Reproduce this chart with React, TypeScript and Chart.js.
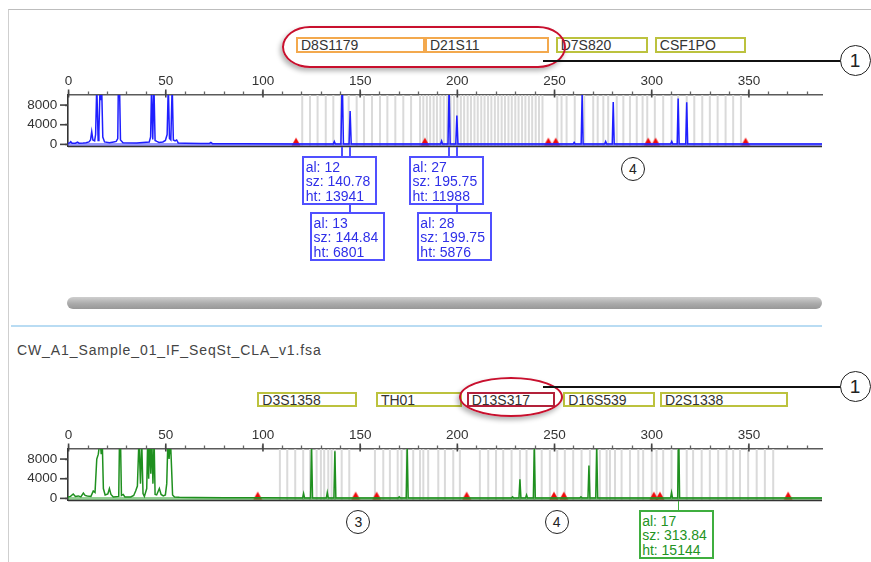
import React, { useEffect, useRef, useState } from 'react';
import { Chart, registerables } from 'chart.js';

Chart.register(...registerables);

type Pt = [number, number];

const FONT = "'Liberation Sans', Arial, Helvetica, sans-serif";

// ---------- axes ----------
const X_MIN = -0.3;
const X_MAX = 387.6;
const Y_MIN = -330;
const Y_MAX = 10050;
const xTicks = [0, 10, 20, 30, 40, 50, 60, 70, 80, 90, 100, 110, 120, 130, 140, 150, 160, 170, 180, 190, 200, 210, 220, 230, 240, 250, 260, 270, 280, 290, 300, 310, 320, 330, 340, 350, 360, 370, 380];
const yTicks = [0, 2000, 4000, 6000, 8000, 10000];

// ---------- blue (top) trace: [size bp, height rfu] ----------
const blueTrace: Pt[] = [
  [-0.3, 250], [0.5, 300], [1.1, 550], [1.8, 250], [3.5, 250], [4.6, 450], [5.4, 250], [7.5, 300], [9, 350], [10.5, 500],
  [11.3, 900], [11.9, 2600], [12.5, 900], [13.4, 700], [13.9, 2000], [14.5, 12000], [15.2, 800], [15.6, 2500], [16.2, 12000],
  [16.6, 9000], [17.0, 12000], [17.6, 1500], [18.5, 500], [21, 350], [23.2, 500], [24.5, 600], [25.3, 1200], [25.6, 12000],
  [26.2, 12000], [26.7, 900], [28, 350], [35, 300], [41.5, 500], [42.2, 1500], [42.7, 12000], [43.3, 1000], [43.9, 12000],
  [44.5, 800], [45.4, 600], [46.5, 400], [48.5, 500], [49.8, 800], [50.7, 2000], [51.3, 12000], [51.9, 1200], [52.6, 900],
  [53.3, 12000], [53.9, 900], [54.8, 700], [55.6, 900], [56.4, 300], [60, 250], [68, 200], [72.5, 200], [73.2, 400],
  [74, 150], [90, 120], [117, 100], [136.2, 100], [136.7, 600], [137.2, 100], [140.1, 100], [140.78, 13941], [141.4, 100],
  [144.3, 100], [144.84, 6801], [145.4, 100], [191.4, 100], [191.9, 700], [192.4, 100], [195.2, 100], [195.75, 11988],
  [196.3, 100], [199.2, 100], [199.75, 5876], [200.3, 100], [259.6, 100], [260.1, 400], [260.6, 100], [263.7, 100],
  [264.2, 10500], [264.7, 100], [275.8, 100], [276.3, 600], [276.8, 100], [279.7, 100], [280.2, 8600], [280.7, 100],
  [309.8, 100], [310.3, 600], [310.8, 100], [313.1, 100], [313.6, 9350], [314.1, 100], [317.5, 100], [318, 8550],
  [318.5, 100], [387.6, 100],
];

// ---------- green (bottom) trace ----------
const greenTrace: Pt[] = [
  [-0.3, 300], [1, 400], [2.4, 900], [3.5, 400], [5, 500], [6.3, 300], [7.6, 1100], [8.5, 600], [9.6, 500], [11.5, 400],
  [12.7, 1500], [13.6, 1200], [14.5, 8000], [15.3, 9000], [16.2, 12000], [16.8, 9000], [17.3, 12000], [17.9, 2000],
  [18.8, 700], [20.2, 900], [21, 2000], [21.8, 800], [23, 300], [25.8, 400], [26.2, 12000], [26.7, 12000], [27.2, 600],
  [28.1, 800], [29, 300], [32, 300], [33.5, 600], [34.5, 1500], [35.4, 2500], [36.2, 12000], [37, 3000], [37.6, 12000],
  [38.3, 1000], [39, 400], [40.2, 2000], [40.7, 12000], [41.2, 4000], [41.7, 12000], [42.3, 5000], [42.8, 12000],
  [43.4, 3000], [44, 12000], [44.5, 800], [45.3, 700], [46.7, 2000], [47.6, 800], [48.7, 500], [49.8, 700], [50.5, 3000],
  [51.1, 12000], [51.7, 8000], [52.4, 12000], [53, 6000], [53.5, 700], [54.5, 300], [57, 250], [65, 180], [80, 150],
  [100, 120], [120.4, 100], [120.9, 1000], [121.4, 100], [124.5, 100], [125.0, 11000], [125.5, 100], [132.6, 100],
  [133.1, 1200], [133.6, 100], [136.5, 100], [137.0, 9600], [137.5, 100], [169.6, 100], [170.1, 300], [170.6, 100],
  [173.7, 100], [174.2, 11000], [174.7, 100], [227.9, 100], [228.4, 300], [228.9, 100], [231.7, 100], [232.2, 3900],
  [232.7, 100], [235.1, 100], [235.6, 700], [236.1, 100], [239.1, 100], [239.6, 11000], [240.1, 100], [263.1, 100],
  [263.6, 300], [264.1, 100], [267.2, 100], [267.7, 6700], [268.2, 100], [271.2, 100], [271.7, 11000], [272.2, 100],
  [309.7, 100], [310.2, 1200], [310.7, 100], [313.34, 100], [313.84, 15144], [314.34, 100], [387.6, 100],
];

// ---------- locus boundary markers (bp) ----------
const topMarkers = [117, 183.3, 246.8, 250.6, 298.2, 302, 348.3];
const bottomMarkers = [97.3, 147.7, 158.5, 204.8, 249.7, 254.8, 301.1, 304.2, 370.2];

// ---------- allelic ladder bins (bp) ----------
const topBins = [
  120.2, 124.2, 128.1, 132.3, 136.2, 140.1, 144.1, 148.2, 152, 156.1, 160.2, 164, 168.1, 172.2, 176.2,
  180.8, 182.5, 184.3, 186, 187.8, 189.5, 191.3, 193, 194.8, 196.5, 198.3, 200, 201.8, 203.5, 205.3, 207, 208.8,
  210.5, 212.3, 214, 215.8, 217.5, 219.3, 221, 222.8, 224.5, 226.3, 228, 229.8, 231.5, 233.3, 235, 236.8, 238.5,
  240.3, 242, 243.8,
  251.4, 253.6, 256.2, 260.4, 265.3, 269.9, 272.2, 275.1, 277.6, 282, 285.4, 288.8, 292.3, 295.3, 297.7,
  301.6, 305.9, 310.2, 313.6, 318, 321.9, 326, 329.9, 333.9, 338, 341.9, 345.9,
];
const bottomBins = [
  108.7, 112.5, 116.6, 120.7, 124.2, 127.6, 129.8, 131.5, 133.6, 135.3, 137, 140.5, 144.4,
  157.6, 161.9, 165.3, 169.3, 171.3, 173.9, 177.3, 180.8, 182.5, 185, 190.2, 193.6, 197.9, 201.3,
  211.6, 215.9, 219.9, 223.6, 227.9, 232.2, 235.6, 239.6, 243.4, 247.6,
  251.4, 255.3, 259.6, 263.9, 268.2, 273.3, 276.8, 278.5, 281.1, 284.5, 288.8, 293.1, 295.6, 300,
  302.5, 305.9, 310.2, 313.6, 318, 321.3, 325.7, 329.9, 334.2, 338.5, 341.9, 345.4, 349.6, 354, 358.2, 362.5,
];

// ---------- loci (bp ranges) ----------
const topLocusNames = ['D8S1179', 'D21S11', 'D7S820', 'CSF1PO'];
const topLocusStart = [117, 183.3, 250.6, 301.6];
const topLocusEnd = [183.3, 247.3, 298.2, 348.5];
const bottomLocusNames = ['D3S1358', 'TH01', 'D13S317', 'D16S539', 'D2S1338'];
const bottomLocusStart = [97.1, 158.1, 204.8, 254.5, 304.2];
const bottomLocusEnd = [148.2, 202.4, 250.2, 301.6, 370.2];

// ---------- called alleles ----------
const topCalloutAl = [12, 13, 27, 28];
const topCalloutSz = [140.78, 144.84, 195.75, 199.75];
const topCalloutHt = [13941, 6801, 11988, 5876];
const topCalloutRow = [0, 1, 0, 1];
const bottomCalloutAl = [17];
const bottomCalloutSz = [313.84];
const bottomCalloutHt = [15144];
const bottomCalloutRow = [0];

const fileName = 'CW_A1_Sample_01_IF_SeqSt_CLA_v1.fsa';

// ---------- styles ----------
const ORANGE = '#f3a94e';
const OLIVE = '#bcc23e';
const RED_BOX = '#b3213a';
const topLocusBorder = [ORANGE, ORANGE, OLIVE, OLIVE];
const bottomLocusBorder = [OLIVE, OLIVE, RED_BOX, OLIVE, OLIVE];

const TOP_CANVAS_Y = 60;
const BOT_CANVAS_Y = 414;
const CANVAS_H = 92;

function makeTriangle(): HTMLCanvasElement {
  const c = document.createElement('canvas');
  c.width = 10;
  c.height = 16;
  const g = c.getContext('2d')!;
  g.fillStyle = '#f00a0a';
  g.beginPath();
  g.moveTo(0.5, 9.3);
  g.lineTo(5, 1.3);
  g.lineTo(9.5, 9.3);
  g.closePath();
  g.fill();
  return c;
}

const ladderPlugin = {
  id: 'ladder',
  beforeDatasetsDraw(chart: any, _a: any, opts: any) {
    const { ctx, chartArea: a, scales } = chart;
    ctx.save();
    ctx.fillStyle = '#dadada';
    for (const b of opts.bins || []) {
      const p = scales.x.getPixelForValue(b);
      ctx.fillRect(p - 1, a.top, 2, a.bottom - a.top);
    }
    ctx.restore();
  },
  afterDatasetsDraw(chart: any) {
    const { ctx, chartArea: a, scales } = chart;
    ctx.save();
    ctx.strokeStyle = '#333';
    ctx.lineWidth = 1.6;
    ctx.beginPath();
    ctx.moveTo(a.left, a.bottom + 0.5);
    ctx.lineTo(a.right, a.bottom + 0.5);
    ctx.stroke();
    ctx.strokeStyle = '#444';
    for (const v of xTicks) {
      if (v % 50 !== 0) continue;
      const p = scales.x.getPixelForValue(v);
      ctx.beginPath();
      ctx.moveTo(p, a.top - 5.5);
      ctx.lineTo(p, a.top + 2.5);
      ctx.stroke();
    }
    for (const v of yTicks) {
      if (v % 4000 !== 0) continue;
      const p = scales.y.getPixelForValue(v);
      ctx.beginPath();
      ctx.moveTo(a.left - 8, p);
      ctx.lineTo(a.left, p);
      ctx.stroke();
    }
    ctx.restore();
  },
};

function makeConfig(trace: Pt[], traceColor: string, bandColor: string, markers: number[], bins: number[], tri: HTMLCanvasElement): any {
  const tickFont = { family: FONT, size: 13.5 };
  return {
    type: 'line',
    data: {
      datasets: [
        {
          data: trace.map(([x, y]) => ({ x, y })),
          borderColor: traceColor,
          borderWidth: 1.5,
          pointRadius: 0,
          tension: 0,
          fill: false,
          clip: 0,
        },
        {
          data: [{ x: X_MIN, y: 0 }, { x: X_MAX, y: 0 }],
          borderColor: bandColor,
          borderWidth: 3,
          pointRadius: 0,
          fill: false,
        },
        {
          type: 'scatter',
          data: markers.map((x) => ({ x, y: 0 })),
          pointStyle: tri,
          pointRadius: 4,
          showLine: false,
        },
      ],
    },
    options: {
      responsive: false,
      animation: false,
      events: [],
      layout: { padding: { left: 0, right: 49, top: 0, bottom: CANVAS_H - 86 } },
      plugins: { legend: { display: false }, tooltip: { enabled: false }, ladder: { bins } },
      scales: {
        x: {
          type: 'linear',
          position: 'top',
          min: X_MIN,
          max: X_MAX,
          afterBuildTicks: (s: any) => { s.ticks = xTicks.map((v) => ({ value: v })); },
          afterFit: (s: any) => { s.height = 35; s.paddingLeft = 0; s.paddingRight = 0; s.paddingTop = 0; s.paddingBottom = 0; },
          ticks: {
            autoSkip: false,
            maxRotation: 0,
            minRotation: 0,
            padding: 2,
            color: '#333',
            font: tickFont,
            callback: (v: number) => (v % 50 === 0 ? String(v) : ''),
          },
          grid: { drawOnChartArea: false, drawTicks: true, tickLength: 3.5, tickWidth: 1.3, tickColor: '#666' },
          border: { display: true, color: '#5a5a5a', width: 1.6 },
        },
        y: {
          type: 'linear',
          min: Y_MIN,
          max: Y_MAX,
          afterBuildTicks: (s: any) => { s.ticks = yTicks.map((v) => ({ value: v })); },
          afterFit: (s: any) => { s.width = 68; s.paddingTop = 0; s.paddingBottom = 0; s.paddingLeft = 0; s.paddingRight = 0; },
          ticks: {
            padding: 7.7,
            color: '#333',
            font: tickFont,
            callback: (v: number) => (v % 4000 === 0 ? String(v) : ''),
          },
          grid: { drawOnChartArea: false, drawTicks: true, tickLength: 3, tickWidth: 1.3, tickColor: '#555' },
          border: { display: true, color: '#333', width: 1.6 },
        },
      },
    },
    plugins: [ladderPlugin],
  };
}

type Geo = {
  topAxisBottom: number;
  botAxisBottom: number;
  topLoci: { name: string; left: number; right: number; color: string }[];
  botLoci: { name: string; left: number; right: number; color: string }[];
  topCallouts: { x: number; al: number; sz: number; ht: number; row: number }[];
  botCallouts: { x: number; al: number; sz: number; ht: number; row: number }[];
};

function Circle({ cx, cy, r, label, size }: { cx: number; cy: number; r: number; label: string; size: number }) {
  return (
    <div
      style={{
        position: 'absolute',
        left: cx - r,
        top: cy - r,
        width: r * 2,
        height: r * 2,
        boxSizing: 'border-box',
        border: '1.5px solid #222',
        borderRadius: '50%',
        background: '#fff',
        display: 'flex',
        alignItems: 'center',
        justifyContent: 'center',
        fontSize: size,
        color: '#222',
        lineHeight: 1,
      }}
    >
      {label}
    </div>
  );
}

function LocusBox({ l, top }: { l: { name: string; left: number; right: number; color: string }; top: number }) {
  return (
    <div
      style={{
        position: 'absolute',
        left: l.left,
        top,
        width: l.right - l.left,
        height: 15.4,
        boxSizing: 'border-box',
        border: `2px solid ${l.color}`,
        fontSize: 14,
        lineHeight: '14px',
        color: '#333',
        paddingLeft: 3,
        whiteSpace: 'nowrap',
      }}
    >
      <span style={{ position: 'relative', top: -1.2 }}>{l.name}</span>
    </div>
  );
}

function Callouts({ list, axisBottom, rowTops, color, border }: { list: Geo['topCallouts']; axisBottom: number; rowTops: number[]; color: string; border: string }) {
  return (
    <>
      {list.map((c, i) => (
        <div
          key={'l' + i}
          style={{ position: 'absolute', left: c.x - 0.75, top: axisBottom, width: 1.5, height: rowTops[c.row] - axisBottom, background: border }}
        />
      ))}
      {list.map((c, i) => (
        <div
          key={'b' + i}
          style={{
            position: 'absolute',
            left: c.x - 40,
            top: rowTops[c.row],
            boxSizing: 'border-box',
            border: `2px solid ${border}`,
            background: '#fff',
            padding: '1.5px 5px 0 1.5px',
            fontSize: 14,
            lineHeight: '14.5px',
            color,
            whiteSpace: 'nowrap',
          }}
        >
          <div>{`al: ${c.al}`}</div>
          <div>{`sz: ${c.sz.toFixed(2)}`}</div>
          <div>{`ht: ${c.ht}`}</div>
        </div>
      ))}
    </>
  );
}

export default function App() {
  const topRef = useRef<HTMLCanvasElement | null>(null);
  const botRef = useRef<HTMLCanvasElement | null>(null);
  const [geo, setGeo] = useState<Geo | null>(null);

  useEffect(() => {
    document.body.style.margin = '0';
    const tri = makeTriangle();
    const top = new Chart(topRef.current!, makeConfig(blueTrace, '#1f1fff', 'rgba(70,70,255,0.55)', topMarkers, topBins, tri));
    const bot = new Chart(botRef.current!, makeConfig(greenTrace, '#1f901f', 'rgba(40,160,40,0.5)', bottomMarkers, bottomBins, tri));
    const px = (c: Chart, v: number) => c.scales.x.getPixelForValue(v);
    setGeo({
      topAxisBottom: TOP_CANVAS_Y + top.chartArea.bottom + 1,
      botAxisBottom: BOT_CANVAS_Y + bot.chartArea.bottom + 1,
      topLoci: topLocusNames.map((name, i) => ({ name, left: px(top, topLocusStart[i]), right: px(top, topLocusEnd[i]), color: topLocusBorder[i] })),
      botLoci: bottomLocusNames.map((name, i) => ({ name, left: px(bot, bottomLocusStart[i]), right: px(bot, bottomLocusEnd[i]), color: bottomLocusBorder[i] })),
      topCallouts: topCalloutSz.map((sz, i) => ({ x: px(top, sz), al: topCalloutAl[i], sz, ht: topCalloutHt[i], row: topCalloutRow[i] })),
      botCallouts: bottomCalloutSz.map((sz, i) => ({ x: px(bot, sz), al: bottomCalloutAl[i], sz, ht: bottomCalloutHt[i], row: bottomCalloutRow[i] })),
    });
    return () => {
      top.destroy();
      bot.destroy();
    };
  }, []);

  return (
    <div style={{ position: 'relative', width: 871, height: 562, overflow: 'hidden', background: '#fff', fontFamily: FONT }}>
      {/* frame */}
      <div style={{ position: 'absolute', left: 7.5, top: 8.5, width: 900, height: 600, borderTop: '1px solid #bdbdbd', borderLeft: '1.5px solid #cfcfcf' }} />

      <canvas ref={topRef} width={871} height={CANVAS_H} style={{ position: 'absolute', left: 0, top: TOP_CANVAS_Y }} />
      <canvas ref={botRef} width={871} height={CANVAS_H} style={{ position: 'absolute', left: 0, top: BOT_CANVAS_Y }} />

      {/* scrollbar + separator + file name */}
      <div style={{ position: 'absolute', left: 67, top: 297, width: 755, height: 12, borderRadius: 6, background: 'linear-gradient(#cfcfcf, #ababab 55%, #989898)' }} />
      <div style={{ position: 'absolute', left: 11, top: 325, width: 811, height: 2, background: '#b9dcf3' }} />
      <div style={{ position: 'absolute', left: 17, top: 342, fontSize: 14, lineHeight: '16px', letterSpacing: 0.9, color: '#444', whiteSpace: 'nowrap' }}>{fileName}</div>

      {geo && (
        <>
          {geo.topLoci.map((l) => <LocusBox key={l.name} l={l} top={37.3} />)}
          {geo.botLoci.map((l) => <LocusBox key={l.name} l={l} top={391.7} />)}
          <Callouts list={geo.topCallouts} axisBottom={geo.topAxisBottom} rowTops={[156, 212]} color="#2f2fe8" border="#5050ff" />
          <Callouts list={geo.botCallouts} axisBottom={geo.botAxisBottom} rowTops={[510]} color="#239323" border="#3fae3f" />
        </>
      )}

      {/* highlight ellipses */}
      <div style={{ position: 'absolute', left: 282, top: 26, width: 284, height: 42, boxSizing: 'border-box', border: '2.5px solid #c8102e', borderRadius: '28px / 21px', boxShadow: '-2px 3px 5px rgba(0,0,0,0.3)' }} />
      <div style={{ position: 'absolute', left: 459, top: 377, width: 104, height: 40, boxSizing: 'border-box', border: '2.5px solid #c8102e', borderRadius: '50%', boxShadow: '-2px 3px 5px rgba(0,0,0,0.3)' }} />

      {/* callout leaders */}
      <div style={{ position: 'absolute', left: 543, top: 59.8, width: 298, height: 1.8, background: '#111' }} />
      <div style={{ position: 'absolute', left: 543, top: 385.8, width: 298, height: 1.8, background: '#111' }} />
      <Circle cx={855} cy={60.7} r={15.5} label="1" size={19} />
      <Circle cx={855} cy={386.7} r={15.5} label="1" size={19} />

      <Circle cx={633} cy={169} r={12} label="4" size={14} />
      <Circle cx={358.3} cy={522.3} r={12} label="3" size={14} />
      <Circle cx={556.7} cy={522.3} r={12} label="4" size={14} />
    </div>
  );
}
